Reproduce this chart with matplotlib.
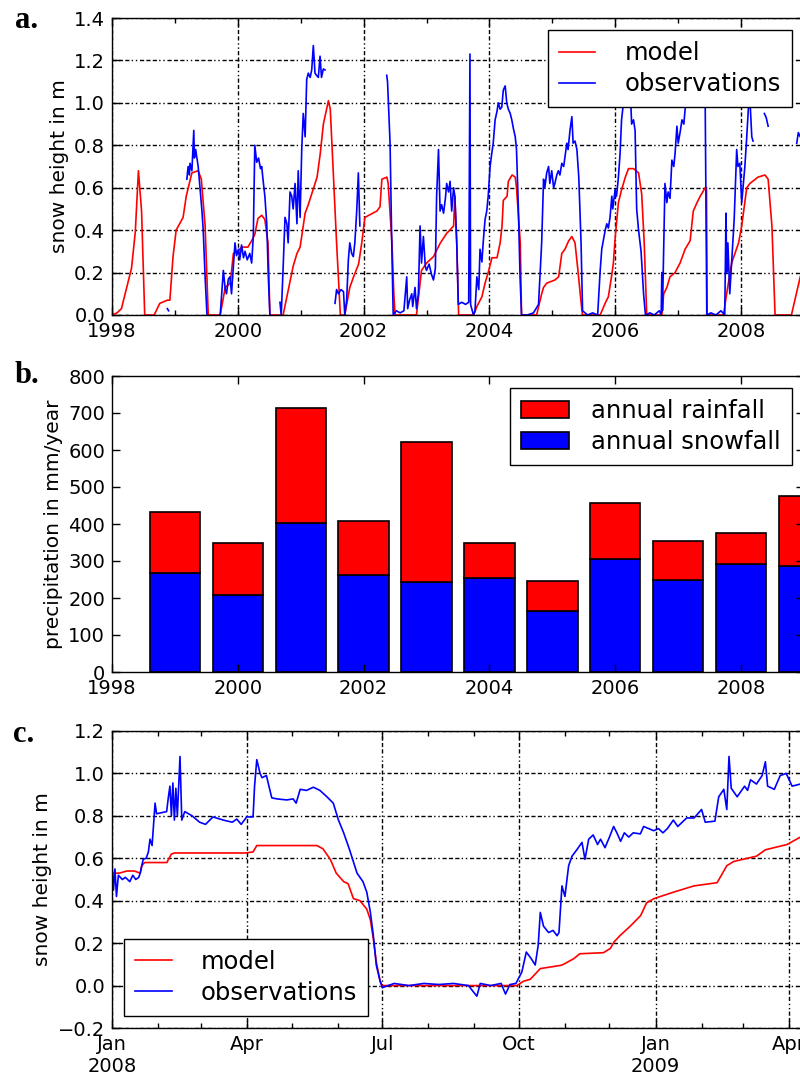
import numpy as np
import matplotlib
matplotlib.use("Agg")
import matplotlib.pyplot as plt
import matplotlib.dates as mdates
from matplotlib.ticker import MultipleLocator, FixedLocator, FuncFormatter
from matplotlib.patches import Patch

NaN = np.nan

# ---------------- Panel a: snow height 1998-2009 (decimal years) ----------------
a_model_years = [1998.00, 1998.08, 1998.15, 1998.31, 1998.37, 1998.42, 1998.47, 1998.52,
                 1998.67, 1998.76, 1998.88, 1998.92, 1998.97, 1999.02, 1999.13, 1999.18,
                 1999.27, 1999.37, 1999.42, 1999.48, 1999.53,
                 1999.72, 1999.80, 1999.88, 1999.93, 2000.00, 2000.06, 2000.16, 2000.22,
                 2000.27, 2000.32, 2000.38, 2000.43, 2000.48, 2000.51,
                 2000.72, 2000.88, 2000.94, 2000.99, 2001.07, 2001.12, 2001.26, 2001.31,
                 2001.36, 2001.44, 2001.47, 2001.52, 2001.57, 2001.63,
                 2001.70, 2001.78, 2001.84, 2001.92, 2001.97, 2002.02, 2002.21, 2002.26,
                 2002.29, 2002.37, 2002.39, 2002.45, 2002.48, 2002.50,
                 2002.84, 2002.92, 2003.00, 2003.11, 2003.22, 2003.32, 2003.37, 2003.43,
                 2003.45, 2003.48, 2003.51,
                 2003.75, 2003.80, 2003.88, 2003.93, 2003.98, 2004.04, 2004.12, 2004.17,
                 2004.20, 2004.22, 2004.28, 2004.30, 2004.36, 2004.41, 2004.43, 2004.49, 2004.51,
                 2004.75, 2004.83, 2004.86, 2004.91, 2005.04, 2005.10, 2005.15, 2005.20,
                 2005.26, 2005.31, 2005.36, 2005.41, 2005.47, 2005.48,
                 2005.76, 2005.84, 2005.89, 2005.94, 2005.97, 2006.00, 2006.05, 2006.10,
                 2006.16, 2006.21, 2006.29, 2006.37, 2006.42, 2006.46, 2006.50,
                 2006.74, 2006.77, 2006.82, 2006.87, 2006.95, 2007.03, 2007.11, 2007.19,
                 2007.24, 2007.30, 2007.35, 2007.43, 2007.45, 2007.46,
                 2007.72, 2007.77, 2007.85, 2007.96, 2008.01, 2008.09, 2008.14, 2008.27,
                 2008.38, 2008.43, 2008.49, 2008.54,
                 2008.80, 2008.94, 2009.05]
a_model_vals = [0.00, 0.01, 0.03, 0.22, 0.39, 0.68, 0.49, 0.00,
                0.00, 0.055, 0.07, 0.07, 0.275, 0.40, 0.46, 0.56,
                0.67, 0.68, 0.64, 0.42, 0.00,
                0.00, 0.13, 0.15, 0.29, 0.30, 0.32, 0.32, 0.35,
                0.38, 0.455, 0.47, 0.45, 0.34, 0.00,
                0.00, 0.23, 0.29, 0.32, 0.48, 0.52, 0.65, 0.76,
                0.90, 1.01, 0.97, 0.65, 0.34, 0.00,
                0.00, 0.13, 0.18, 0.24, 0.34, 0.46, 0.49, 0.51,
                0.64, 0.65, 0.62, 0.34, 0.10, 0.00,
                0.00, 0.21, 0.245, 0.275, 0.34, 0.385, 0.40, 0.42,
                0.56, 0.34, 0.00,
                0.00, 0.04, 0.086, 0.15, 0.20, 0.27, 0.27, 0.34,
                0.42, 0.54, 0.56, 0.63, 0.66, 0.65, 0.60, 0.34, 0.00,
                0.00, 0.10, 0.13, 0.15, 0.165, 0.18, 0.29, 0.31,
                0.35, 0.37, 0.34, 0.20, 0.02, 0.00,
                0.00, 0.056, 0.086, 0.18, 0.245, 0.37, 0.53, 0.59,
                0.65, 0.69, 0.69, 0.67, 0.57, 0.34, 0.00,
                0.00, 0.10, 0.13, 0.18, 0.20, 0.245, 0.31, 0.35,
                0.49, 0.53, 0.56, 0.60, 0.60, 0.00,
                0.00, 0.10, 0.245, 0.34, 0.42, 0.60, 0.62, 0.65,
                0.66, 0.64, 0.42, 0.00,
                0.00, 0.18, 0.26]

a_obs_years = [1998.88, 1998.90, NaN,
               1999.19, 1999.21, 1999.23, 1999.24, 1999.27, 1999.30, 1999.31, 1999.33,
               1999.37, 1999.43, 1999.45, 1999.48, 1999.51, NaN,
               1999.72, 1999.77, 1999.80, 1999.82, 1999.85, 1999.876, 1999.90, 1999.955,
               1999.98, 2000.01, 2000.03, 2000.06, 2000.09, 2000.115, 2000.15, 2000.19,
               2000.22, 2000.246, 2000.27, 2000.30, 2000.33, 2000.36, 2000.38, 2000.40,
               2000.43, 2000.46, 2000.485, 2000.51, NaN,
               2000.67, 2000.69, 2000.72, 2000.75, 2000.78, 2000.80, 2000.83, 2000.857,
               2000.88, 2000.91, 2000.94, 2000.96, 2000.99, 2001.016, 2001.04, 2001.07,
               2001.095, 2001.12, 2001.15, 2001.175, 2001.20, 2001.227, 2001.25, 2001.28,
               2001.307, 2001.33, 2001.36, 2001.386, NaN,
               2001.545, 2001.57, 2001.60, 2001.64, 2001.68, 2001.70, 2001.73, 2001.757,
               2001.78, 2001.81, 2001.836, 2001.86, 2001.89, 2001.916, 2001.94, NaN,
               2002.367, 2002.38, 2002.42, 2002.447, 2002.47, 2002.52, 2002.58, 2002.64,
               2002.685, 2002.70, 2002.73, 2002.765, 2002.78, 2002.817, 2002.84, 2002.87,
               2002.897, 2002.92, 2002.95, 2002.98, 2003.00, 2003.04, 2003.08, 2003.11,
               2003.14, 2003.16, 2003.19, 2003.215, 2003.24, 2003.27, 2003.30, 2003.32,
               2003.35, 2003.374, 2003.40, 2003.43, 2003.45, 2003.48, 2003.505, 2003.56,
               2003.62, 2003.67, 2003.69, 2003.70, 2003.745, 2003.77,
               2003.80, 2003.83, 2003.85, 2003.88, 2003.90, 2003.93, 2003.957, 2003.98,
               2004.01, 2004.036, 2004.06, 2004.09, 2004.12, 2004.14, 2004.17, 2004.196,
               2004.22, 2004.25, 2004.275, 2004.30, 2004.33, 2004.355, 2004.38, 2004.41,
               2004.43, 2004.46, 2004.486, 2004.51, 2004.60, 2004.70, 2004.78,
               2004.83, 2004.86, 2004.88, 2004.91, 2004.94, 2004.96, 2004.99, 2005.02,
               2005.04, 2005.07, 2005.095, 2005.12, 2005.15, 2005.18, 2005.20, 2005.23,
               2005.25, 2005.28, 2005.31, 2005.33, 2005.36, 2005.39, 2005.42, 2005.456,
               2005.48, 2005.56, 2005.64, 2005.72, 2005.76,
               2005.785, 2005.81, 2005.84, 2005.865, 2005.89, 2005.917, 2005.945, 2005.96,
               2005.997, 2006.02, 2006.05, 2006.076, 2006.10, 2006.13, 2006.17, 2006.21,
               2006.24, 2006.26, 2006.29, 2006.315, 2006.34, 2006.37, 2006.41, 2006.45,
               2006.48, 2006.55, 2006.62, 2006.70, 2006.73, 2006.74, 2006.75,
               2006.79, 2006.82, 2006.84, 2006.87, 2006.90, 2006.93, 2006.95, 2006.98,
               2007.00, 2007.03, 2007.06, 2007.09, 2007.11, 2007.16, 2007.22, 2007.27,
               2007.35, 2007.40, 2007.43, 2007.455, 2007.52, 2007.60, 2007.68, 2007.74,
               2007.76, 2007.77, 2007.79, 2007.82, 2007.86, 2007.89, 2007.91,
               2007.93, 2007.95, 2007.98, 2008.01, 2008.03, 2008.06, 2008.09, 2008.115,
               2008.14, 2008.17, 2008.19, NaN,
               2008.37, 2008.40, 2008.43, NaN,
               2008.885, 2008.91, 2008.94, 2008.97, 2009.02]
a_obs_vals = [0.03, 0.02, NaN,
              0.64, 0.70, 0.66, 0.715, 0.68, 0.87, 0.74, 0.78,
              0.70, 0.49, 0.40, 0.18, 0.00, NaN,
              0.00, 0.21, 0.12, 0.10, 0.17, 0.18, 0.10, 0.34,
              0.28, 0.31, 0.26, 0.33, 0.27, 0.30, 0.26, 0.29,
              0.245, 0.37, 0.80, 0.72, 0.74, 0.69, 0.70, 0.64,
              0.56, 0.43, 0.18, 0.00, NaN,
              0.06, 0.00, 0.22, 0.46, 0.43, 0.34, 0.58, 0.56,
              0.50, 0.62, 0.43, 0.68, 0.46, 0.78, 0.95, 0.84,
              1.11, 1.14, 1.12, 1.155, 1.27, 1.14, 1.13, 1.12,
              1.22, 1.12, 1.16, 1.155, NaN,
              0.055, 0.12, 0.10, 0.12, 0.11, 0.00, 0.07, 0.26,
              0.34, 0.29, 0.275, 0.34, 0.49, 0.67, 0.42, NaN,
              1.13, 1.10, 0.81, 0.34, 0.00, 0.02, 0.01, 0.02,
              0.18, 0.03, 0.07, 0.10, 0.04, 0.13, 0.03, 0.10,
              0.42, 0.245, 0.37, 0.23, 0.21, 0.24, 0.19, 0.165,
              0.22, 0.56, 0.78, 0.49, 0.52, 0.48, 0.55, 0.62,
              0.58, 0.63, 0.49, 0.60, 0.56, 0.34, 0.05, 0.06,
              0.05, 0.06, 1.23, 0.05, 0.00, 0.02,
              0.18, 0.12, 0.31, 0.25, 0.34, 0.45, 0.49, 0.56,
              0.70, 0.76, 0.81, 0.92, 0.96, 1.00, 0.97, 0.98,
              1.06, 1.08, 1.00, 0.97, 0.95, 0.92, 0.88, 0.84,
              0.78, 0.50, 0.18, 0.00, 0.00, 0.01, 0.05,
              0.34, 0.64, 0.60, 0.67, 0.70, 0.62, 0.68, 0.60,
              0.62, 0.66, 0.68, 0.66, 0.715, 0.70, 0.745, 0.81,
              0.78, 0.87, 0.935, 0.81, 0.82, 0.78, 0.65, 0.34,
              0.02, 0.00, 0.01, 0.00, 0.21,
              0.31, 0.35, 0.40, 0.43, 0.41, 0.46, 0.56, 0.50,
              0.59, 0.56, 0.65, 0.76, 0.92, 1.00, 1.08, 1.12,
              1.05, 0.90, 0.92, 0.87, 0.50, 0.40, 0.30, 0.10,
              0.00, 0.01, 0.00, 0.02, 0.00, 0.20, 0.02,
              0.62, 0.53, 0.58, 0.55, 0.73, 0.70, 0.76, 0.89,
              0.81, 0.86, 0.92, 0.90, 0.97, 1.05, 1.12, 1.10,
              1.05, 1.08, 0.98, 0.00, 0.01, 0.00, 0.02, 0.00,
              0.48, 0.20, 0.34, 0.10, 0.30, 0.45, 0.62,
              0.78, 0.70, 0.715, 0.53, 0.60, 0.70, 0.84, 0.97,
              1.02, 0.84, 0.82, NaN,
              0.95, 0.93, 0.89, NaN,
              0.81, 0.86, 0.84, 0.88, 0.86]

# ---------------- Panel b: annual precipitation (mm/year) ----------------
b_years = [1999, 2000, 2001, 2002, 2003, 2004, 2005, 2006, 2007, 2008, 2009]
b_total = [433, 349, 713, 408, 621, 348, 245, 456, 353, 377, 475]
b_snow = [268, 207, 402, 262, 243, 255, 164, 305, 250, 291, 286]
b_rain = [t - s for t, s in zip(b_total, b_snow)]

# ---------------- Panel c: detail Jan 2008 - Apr 2009 (days since 2008-01-01) ----------------
c_start = np.datetime64("2008-01-01")
c_model_days = [0, 5, 10, 15, 19, 20, 22, 37, 38, 40, 42, 90, 95, 97.5, 138, 142, 147,
                151, 156, 159, 162.6, 167, 171.6, 174, 176, 178, 180.6, 182, 230, 272.7,
                277, 281.7, 288.4, 302, 304, 311, 315, 331, 335.6, 338, 342, 349, 356,
                360, 365, 378, 392, 407.5, 414, 418.7, 434, 440, 454.6, 463.6, 470]
c_model_vals = [0.53, 0.53, 0.54, 0.54, 0.53, 0.565, 0.58, 0.58, 0.595, 0.62, 0.625,
                0.625, 0.63, 0.66, 0.66, 0.645, 0.595, 0.53, 0.49, 0.48, 0.41, 0.40, 0.36,
                0.31, 0.22, 0.11, 0.02, 0.00, 0.00, 0.00, 0.02, 0.03, 0.08, 0.095, 0.10,
                0.127, 0.15, 0.155, 0.175, 0.205, 0.235, 0.28, 0.33, 0.39, 0.41, 0.44,
                0.47, 0.485, 0.565, 0.585, 0.61, 0.64, 0.665, 0.70, 0.71]
c_obs_days = [0, 1, 2, 3, 4.3, 7, 9, 12, 14, 16,
              18, 19, 21, 23, 24.5, 25.6, 27, 29, 30, 33.5,
              36.8, 38, 39, 40, 41, 42, 43, 44, 45.8, 47,
              49, 54, 59, 63, 68, 75, 81, 84, 87, 90.7,
              95, 96, 97.5, 99.7, 101, 104, 105, 107.6, 111, 117.7,
              122, 124, 126.7, 131, 135.6, 140, 144.7, 149, 152.5, 156,
              160, 165, 169, 171.6, 174, 176, 178, 180.6, 182, 190,
              200, 210, 220, 230, 240, 245.7, 248, 255, 262, 265,
              268, 272, 276, 279, 282, 285, 287, 288.4, 290.6, 294,
              297, 299.7, 301, 303, 305, 307.5, 309.8, 313, 316.5, 318.5,
              321, 324, 327, 329, 332, 335, 337.8, 340, 342.5, 345,
              348, 351, 355.8, 358, 364.8, 368, 371, 374, 378, 381,
              387, 392, 397, 399.5, 406, 408.6, 412, 414, 415.5, 417,
              421, 426, 428, 430, 434, 437.8, 440, 441.5, 446, 450,
              454, 458, 463.6, 470]
c_obs_vals = [0.57, 0.45, 0.55, 0.42, 0.52, 0.50, 0.51, 0.49, 0.52, 0.50,
              0.51, 0.53, 0.595, 0.60, 0.63, 0.69, 0.66, 0.86, 0.81, 0.815,
              0.82, 0.89, 0.94, 0.80, 0.955, 0.78, 0.93, 0.80, 1.08, 0.78,
              0.82, 0.80, 0.77, 0.76, 0.795, 0.78, 0.77, 0.785, 0.76, 0.795,
              0.795, 0.94, 1.065, 1.00, 0.98, 0.99, 0.96, 0.885, 0.88, 0.875,
              0.88, 0.86, 0.925, 0.92, 0.935, 0.92, 0.89, 0.86, 0.78, 0.72,
              0.64, 0.53, 0.49, 0.44, 0.345, 0.235, 0.095, 0.02, -0.01, 0.01,
              0.00, 0.01, 0.005, 0.01, 0.00, -0.05, 0.01, 0.00, 0.01, -0.04,
              0.005, 0.01, 0.064, 0.158, 0.13, 0.097, 0.19, 0.345, 0.28, 0.25,
              0.26, 0.235, 0.25, 0.47, 0.42, 0.565, 0.61, 0.64, 0.675, 0.595,
              0.69, 0.71, 0.665, 0.69, 0.65, 0.70, 0.75, 0.72, 0.68, 0.72,
              0.70, 0.72, 0.715, 0.75, 0.73, 0.74, 0.72, 0.74, 0.78, 0.75,
              0.79, 0.79, 0.83, 0.77, 0.775, 0.89, 0.925, 0.83, 1.08, 0.93,
              0.89, 0.94, 0.92, 0.97, 0.95, 0.99, 1.055, 0.94, 0.925, 0.99,
              1.00, 0.94, 0.95, 0.95]

# ---------------- styling ----------------
RED = "#ff0000"
BLUE = "#0000ff"
plt.rcParams["font.family"] = ["DejaVu Sans"]
plt.rcParams["axes.linewidth"] = 1.0
TICK_FS = 14
LABEL_FS = 14.5
LEG_FS = 17.5
LINE_W = 1.2
grid_kw = dict(color="black", linestyle=(0, (3, 1.6, 3, 1.6, 3, 1.6, 1, 2, 1, 2)),
               linewidth=1.0)


def style_ticks(ax):
    ax.tick_params(which="both", direction="in", top=True, right=True,
                   labelsize=TICK_FS, width=1.0, colors="black")
    ax.tick_params(which="major", length=6, pad=5)
    ax.tick_params(which="minor", length=3.5)


def year_fmt(x, pos):
    return "%d" % int(round(x))


def dec_fmt(v, pos):
    s = "%.1f" % abs(v)
    return ("\u2212" + s) if v < -1e-9 else s


fig = plt.figure(figsize=(8, 10.77), dpi=100)
W, H = 800.0, 1077.0


def add_ax(left, top, right, bottom):
    return fig.add_axes([left / W, 1 - bottom / H, (right - left) / W, (bottom - top) / H])


# ---- a ----
ax_a = add_ax(112, 18, 804, 315)
ax_a.plot(a_model_years, a_model_vals, color=RED, lw=LINE_W, label="model")
ax_a.plot(a_obs_years, a_obs_vals, color=BLUE, lw=LINE_W, label="observations")
ax_a.set_xlim(1998, 2009)
ax_a.set_ylim(0, 1.4)
ax_a.xaxis.set_major_locator(FixedLocator([1998, 2000, 2002, 2004, 2006, 2008]))
ax_a.xaxis.set_minor_locator(FixedLocator([1999, 2001, 2003, 2005, 2007, 2009]))
ax_a.xaxis.set_major_formatter(FuncFormatter(year_fmt))
ax_a.yaxis.set_major_locator(MultipleLocator(0.2))
ax_a.yaxis.set_major_formatter(FuncFormatter(dec_fmt))
ax_a.grid(True, which="major", **grid_kw)
style_ticks(ax_a)
ax_a.set_ylabel("snow height in m", fontsize=LABEL_FS)
leg = ax_a.legend(loc="upper right", fontsize=LEG_FS, fancybox=False, framealpha=1,
                  edgecolor="black", handlelength=1.5, handletextpad=1.2,
                  borderpad=0.45, labelspacing=0.3)
leg.get_frame().set_linewidth(1.0)

# ---- b ----
ax_b = add_ax(112, 376, 804, 672)
ax_b.bar(b_years, b_snow, width=0.8, color=BLUE, edgecolor="black", linewidth=1.2,
         label="annual snowfall")
ax_b.bar(b_years, b_rain, width=0.8, bottom=b_snow, color=RED, edgecolor="black",
         linewidth=1.2, label="annual rainfall")
ax_b.set_xlim(1998, 2009)
ax_b.set_ylim(0, 800)
ax_b.xaxis.set_major_locator(FixedLocator([1998, 2000, 2002, 2004, 2006, 2008]))
ax_b.xaxis.set_major_formatter(FuncFormatter(year_fmt))
ax_b.yaxis.set_major_locator(MultipleLocator(100))
style_ticks(ax_b)
ax_b.set_ylabel("precipitation in mm/year", fontsize=LABEL_FS)
handles = [Patch(facecolor=RED, edgecolor="black", linewidth=1.2),
           Patch(facecolor=BLUE, edgecolor="black", linewidth=1.2)]
leg = ax_b.legend(handles, ["annual rainfall", "annual snowfall"], loc="upper right",
                  fontsize=LEG_FS, fancybox=False, framealpha=1, edgecolor="black",
                  handlelength=2.0, handleheight=0.7, handletextpad=0.9,
                  borderpad=0.45, labelspacing=0.3)
leg.get_frame().set_linewidth(1.0)

# ---- c ----
ax_c = add_ax(112, 731, 804, 1028)
c_model_t = c_start + np.round(np.array(c_model_days) * 24).astype("timedelta64[h]")
c_obs_t = c_start + np.round(np.array(c_obs_days) * 24).astype("timedelta64[h]")
ax_c.plot(c_model_t, c_model_vals, color=RED, lw=LINE_W, label="model")
ax_c.plot(c_obs_t, c_obs_vals, color=BLUE, lw=LINE_W, label="observations")
ax_c.set_xlim(c_start, c_start + np.timedelta64(466, "D"))
ax_c.set_ylim(-0.2, 1.2)
ax_c.xaxis.set_major_locator(mdates.MonthLocator(bymonth=[1, 4, 7, 10]))
ax_c.xaxis.set_minor_locator(mdates.MonthLocator())


def c_fmt(x, pos):
    d = mdates.num2date(x)
    if d.month == 1:
        return d.strftime("%b\n%Y")
    return d.strftime("%b")


ax_c.xaxis.set_major_formatter(FuncFormatter(c_fmt))
ax_c.yaxis.set_major_locator(MultipleLocator(0.2))
ax_c.yaxis.set_major_formatter(FuncFormatter(dec_fmt))
ax_c.grid(True, which="major", **grid_kw)
style_ticks(ax_c)
ax_c.set_ylabel("snow height in m", fontsize=LABEL_FS)
leg = ax_c.legend(loc="lower left", fontsize=LEG_FS, fancybox=False, framealpha=1,
                  edgecolor="black", handlelength=1.5, handletextpad=1.2,
                  borderpad=0.45, labelspacing=0.3)
leg.get_frame().set_linewidth(1.0)

# panel letters
for lbl, x, yb in [("a.", 15, 28), ("b.", 15, 383), ("c.", 13, 742)]:
    fig.text(x / W, 1 - yb / H, lbl, fontsize=22, fontweight="bold",
             family=["Liberation Serif", "DejaVu Serif"], va="baseline", ha="left")

fig.savefig("out.png", dpi=100)
